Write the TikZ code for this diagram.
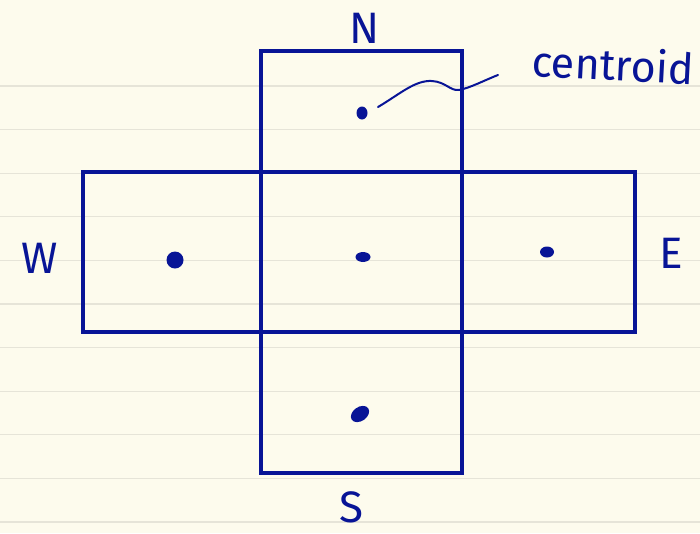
\documentclass[tikz,border=0pt]{standalone}
\usepackage{fontspec}
\setmainfont{Fira Sans}
\usetikzlibrary{shapes.geometric}
\definecolor{ink}{RGB}{8,20,150}
\definecolor{paper}{RGB}{253,251,237}
\definecolor{rule}{RGB}{230,228,216}
\tikzset{
  face/.style={draw=ink, line width=4pt, rectangle, inner sep=0pt, outer sep=0pt},
  blob/.style={ellipse, fill=ink, inner sep=0pt, outer sep=0pt},
  hand/.style={text=ink, font=\fontsize{44}{44}\selectfont, inner sep=0pt},
  leader/.style={draw=ink, line width=2pt, line cap=round},
  ruling/.style={draw=rule, line width=1.3pt}
}
\begin{document}
\begin{tikzpicture}[x=1pt, y=-1pt]
  \fill[paper] (0,0) rectangle (700,533);
  \useasboundingbox (0,0) rectangle (700,533);
  \foreach \k in {0,...,10} {
    \draw[ruling] (0,{86+43.6*\k}) -- (700,{86+43.6*\k});
  }
  % faces
  \node[face, minimum width=201pt, minimum height=121pt] (fN) at (361.5,111.5) {};
  \node[face, minimum width=178.5pt, minimum height=160pt] (fW) at (171.75,252) {};
  \node[face, minimum width=201pt, minimum height=160pt] (fC) at (361.5,252) {};
  \node[face, minimum width=173pt, minimum height=160pt] (fE) at (548.5,252) {};
  \node[face, minimum width=201pt, minimum height=141pt] (fS) at (361.5,402.5) {};
  % centroids
  \node[blob, minimum width=11pt, minimum height=13pt] (dN) at (362,113) {};
  \node[blob, minimum width=17pt, minimum height=17pt] (dW) at (175,260) {};
  \node[blob, minimum width=15pt, minimum height=10pt] (dC) at (363,257) {};
  \node[blob, minimum width=14pt, minimum height=11pt] (dE) at (547,252) {};
  \node[blob, minimum width=20pt, minimum height=14pt, rotate=35] (dS) at (360,414) {};
  % labels
  \node[hand] (lN) at (365,28) {N};
  \node[hand] (lW) at (40,258) {W};
  \node[hand] (lE) at (671,253) {E};
  \node[hand] (lS) at (351,507) {S};
  \node[text=ink, font=\fontsize{43}{43}\selectfont, inner sep=0pt, rotate=-3] (lc) at (613,64) {centroid};
  % leader
  \coordinate (l0) at (378,107);
  \coordinate (l1) at (498,75);
  \draw[leader] (l0) .. controls (400,94) and (415,80) .. (432,81)
                     .. controls (446,82) and (450,91) .. (459,90)
                     .. controls (470,88) and (485,80) .. (l1);
\end{tikzpicture}
\end{document}
